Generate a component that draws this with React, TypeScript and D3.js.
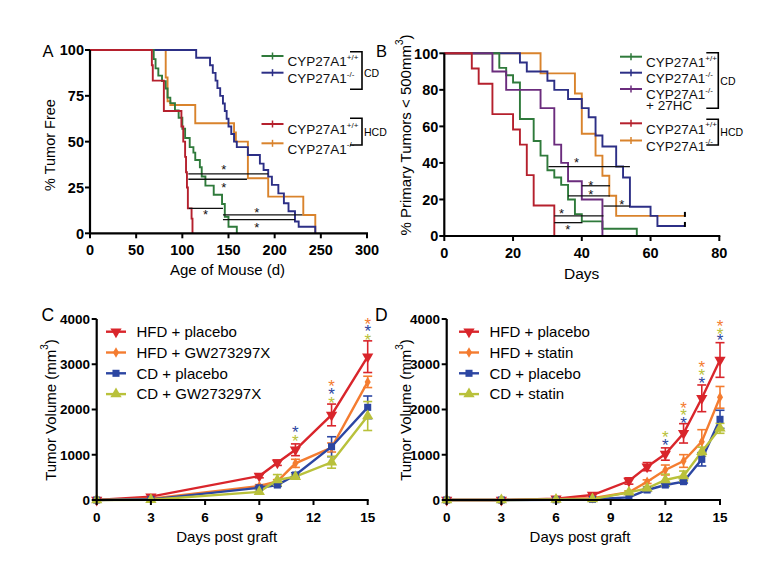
import React from 'react';
import * as d3 from 'd3';

const FONT = "'Liberation Sans', Arial, Helvetica, sans-serif";

// ---------- Panel A (Kaplan-Meier, age of mouse) ----------
const A_xTicks = [0, 50, 100, 150, 200, 250, 300];
const A_yTicks = [0, 25, 50, 75, 100];
const A_cdWT_t = [0, 69, 71, 74, 78, 82, 84, 87, 92, 96, 100, 103, 108, 112, 114, 119, 121, 125, 134, 143, 146, 150, 159];
const A_cdWT_s = [100, 95, 90, 86, 83, 79, 74, 71, 67, 63, 57, 52, 47, 44, 40, 36, 31, 26, 21, 16, 9, 3.6, 0];
const A_cdKO_t = [0, 115, 130, 133, 136, 138, 141, 144, 146, 148, 150, 153, 156, 159, 171, 184, 188, 193, 197, 204, 210, 215, 222, 226, 244];
const A_cdKO_s = [100, 95.8, 91.7, 87.5, 83.3, 79.2, 75, 70.8, 66.7, 62.5, 58.3, 54.2, 50, 47, 42.7, 38, 34.5, 30.9, 26.4, 21.8, 16.4, 12, 6.4, 3.6, 0];
const A_hcdWT_t = [0, 67, 68, 80, 99, 101, 103, 104, 105, 106, 110, 111];
const A_hcdWT_s = [100, 91.7, 83.3, 66.7, 58.3, 50, 41.7, 33.3, 25, 13.6, 8, 0];
const A_hcdKO_t = [0, 82, 84, 87, 114, 156, 158, 171, 193, 231, 244];
const A_hcdKO_s = [100, 85, 72, 70, 60, 55, 50, 30, 20, 10, 0];
const A_bars = [
  { x1: 106.5, x2: 193, y: 32.4 },
  { x1: 106.5, x2: 170, y: 29.5 },
  { x1: 107, x2: 144, y: 13.6 },
  { x1: 144, x2: 230, y: 10 },
  { x1: 144, x2: 222, y: 7.5 },
];
const A_stars = [
  { x: 145, y: 36.4 }, { x: 145, y: 26.9 }, { x: 125, y: 11.8 }, { x: 180.5, y: 13.3 }, { x: 180.5, y: 4.9 },
];

// ---------- Panel B (Kaplan-Meier, days) ----------
const B_xTicks = [0, 20, 40, 60, 80];
const B_yTicks = [0, 20, 40, 60, 80, 100];
const B_cdWT_t = [0, 16, 18, 20, 22, 26, 28, 30, 32, 34, 36, 38, 40, 46, 56];
const B_cdWT_s = [100, 92, 88, 84, 64, 52, 44, 36, 32, 28, 20, 12, 8, 4, 0];
const B_cdKO_t = [0, 22, 24, 30, 32, 36, 40, 42, 44, 46, 50, 52, 54, 60, 62];
const B_cdKO_s = [100, 95, 90, 85, 80, 75, 70, 65, 55, 49, 38, 32, 16, 11, 5.5];
const B_cd27_t = [0, 14, 18, 28, 32, 34, 36, 40, 46];
const B_cd27_s = [100, 90, 80, 70, 50, 40, 30, 20, 0];
const B_hcdWT_t = [0, 8, 10, 14, 20, 22, 24, 26, 32];
const B_hcdWT_s = [100, 91.7, 83.3, 66.7, 58.3, 50, 33.3, 16.7, 0];
const B_hcdKO_t = [0, 28, 38, 40, 44, 46, 48, 50];
const B_hcdKO_s = [100, 89, 78, 56, 44, 33, 22, 11];
const B_end = 70;
const B_bars = [
  { x1: 30.3, x2: 54, y: 38 },
  { x1: 40, x2: 48.2, y: 27.5 },
  { x1: 36, x2: 48.2, y: 22 },
  { x1: 46.3, x2: 54, y: 16.4 },
  { x1: 32, x2: 46.3, y: 11 },
  { x1: 32, x2: 40.2, y: 7.3 },
];
const B_stars = [
  { x: 38.5, y: 42 }, { x: 42.6, y: 29.7 }, { x: 42.6, y: 24.3 }, { x: 51.6, y: 18.8 }, { x: 34.1, y: 13.9 }, { x: 35.9, y: 5.1 },
];

// ---------- Panel C (tumor volume, GW273297X) ----------
const C_days = [0, 3, 9, 10, 11, 13, 15];
const C_hfdPlacebo = [0, 74, 530, 825, 1110, 1880, 3167];
const C_hfdPlaceboErr = [0, 20, 40, 60, 130, 240, 350];
const C_hfdGW = [0, 30, 310, 410, 810, 1160, 2610];
const C_hfdGWErr = [0, 10, 30, 40, 90, 100, 125];
const C_cdPlacebo = [0, 15, 270, 331, 552, 1178, 2048];
const C_cdPlaceboErr = [0, 10, 30, 30, 50, 220, 250];
const C_cdGW = [0, 5, 180, 442, 515, 833, 1856];
const C_cdGWErr = [0, 5, 50, 120, 40, 130, 320];
const C_stars = [
  { day: 11, v: 1598, c: 'blue' }, { day: 11, v: 1399, c: 'yellow' },
  { day: 13, v: 2614, c: 'orange' }, { day: 13, v: 2431, c: 'blue' }, { day: 13, v: 2247, c: 'yellow' },
  { day: 15, v: 3993, c: 'orange' }, { day: 15, v: 3817, c: 'blue' }, { day: 15, v: 3624, c: 'yellow' },
];

// ---------- Panel D (tumor volume, statin) ----------
const D_days = [0, 3, 6, 8, 10, 11, 12, 13, 14, 15];
const D_hfdPlacebo = [0, 0, 30, 110, 420, 737, 1016, 1473, 2247, 3094];
const D_hfdPlaceboErr = [0, 0, 15, 30, 70, 90, 136, 214, 295, 383];
const D_hfdStatin = [0, 0, 15, 40, 170, 405, 663, 862, 1289, 2269];
const D_hfdStatinErr = [0, 0, 5, 10, 30, 40, 110, 140, 265, 240];
const D_cdPlacebo = [0, 0, 5, 15, 59, 221, 331, 405, 899, 1783];
const D_cdPlaceboErr = [0, 0, 5, 5, 20, 30, 30, 30, 147, 200];
const D_cdStatin = [0, 0, 10, 20, 170, 258, 442, 530, 1068, 1584];
const D_cdStatinErr = [0, 0, 5, 5, 30, 40, 130, 110, 100, 110];
const D_stars = [
  { day: 12, v: 1487, c: 'yellow' }, { day: 12, v: 1310, c: 'blue' },
  { day: 13, v: 2137, c: 'orange' }, { day: 13, v: 1973, c: 'yellow' }, { day: 13, v: 1805, c: 'blue' },
  { day: 14, v: 3021, c: 'orange' }, { day: 14, v: 2857, c: 'yellow' }, { day: 14, v: 2689, c: 'blue' },
  { day: 15, v: 3934, c: 'orange' }, { day: 15, v: 3772, c: 'yellow' }, { day: 15, v: 3624, c: 'blue' },
];
const CD_xTicks = [0, 3, 6, 9, 12, 15];
const CD_yTicks = [0, 1000, 2000, 3000, 4000];

const KM_COL = { green: '#2f7a3b', blue: '#2c2f86', red: '#b5202d', orange: '#d9832c', purple: '#6b2c7d' };
const TV_COL: Record<string, string> = { red: '#d9252b', orange: '#f47c30', blue: '#2c46a2', yellow: '#b9c13b' };

function Axes({ xs, ys, xTicks, yTicks, fs, xOff, yOff }: any) {
  const xa = xs.range()[0];
  const yb = ys.range()[0];
  const yt = ys(yTicks[yTicks.length - 1]);
  const xe = xs(xTicks[xTicks.length - 1]);
  return (
    <g fontFamily={FONT} fontWeight="bold" fontSize={fs}>
      <line x1={xa} x2={xa} y1={yb + 1} y2={yt} stroke="#000" strokeWidth={2.2} />
      <line x1={xa - 1} x2={xe + 1} y1={yb} y2={yb} stroke="#000" strokeWidth={2.2} />
      {xTicks.map((t: number) => (
        <g key={'x' + t}>
          <line x1={xs(t)} x2={xs(t)} y1={yb} y2={yb + 5} stroke="#000" strokeWidth={2} />
          <text x={xs(t)} y={yb + xOff} textAnchor="middle">{t}</text>
        </g>
      ))}
      {yTicks.map((t: number) => (
        <g key={'y' + t}>
          <line x1={xa - 5} x2={xa} y1={ys(t)} y2={ys(t)} stroke="#000" strokeWidth={2} />
          <text x={xa - yOff} y={ys(t) + fs * 0.36} textAnchor="end">{t}</text>
        </g>
      ))}
    </g>
  );
}

function Star({ x, y, color, fs }: any) {
  return (
    <text x={x} y={y + fs * 0.6} textAnchor="middle" fontFamily={FONT} fontSize={fs} fill={color}>*</text>
  );
}

function kmPath(xs: any, ys: any, t: number[], s: number[], end?: number) {
  const pts: [number, number][] = t.map((ti, i) => [ti, s[i]]);
  if (end !== undefined) pts.push([end, s[s.length - 1]]);
  return d3.line<[number, number]>().x(d => xs(d[0])).y(d => ys(d[1])).curve(d3.curveStepAfter)(pts) || '';
}

function LegendKM({ x, y, color, sup, second }: any) {
  return (
    <g fontFamily={FONT}>
      <line x1={x} x2={x + 22} y1={y} y2={y} stroke={color} strokeWidth={2} />
      <line x1={x + 11} x2={x + 11} y1={y - 3.5} y2={y + 3.5} stroke={color} strokeWidth={1.5} />
      <text x={x + 26} y={y + 10.3} fontSize={13.5} fill="#111">
        CYP27A1<tspan dy={-6.5} fontSize={8}>{sup}</tspan>
      </text>
      {second && <text x={x + 26} y={y + 20.5} fontSize={13.5} fill="#111">{second}</text>}
    </g>
  );
}

function Bracket({ x, y1, y2, label, ly }: any) {
  return (
    <g>
      <path d={`M${x - 12},${y1}H${x}V${y2}H${x - 12}`} fill="none" stroke="#000" strokeWidth={1.6} />
      <text x={x + 2} y={ly} fontFamily={FONT} fontSize={10.5}>{label}</text>
    </g>
  );
}

function PanelA() {
  const xs = d3.scaleLinear().domain([0, 300]).range([90, 367]);
  const ys = d3.scaleLinear().domain([0, 100]).range([233.3, 50]);
  const series = [
    { t: A_hcdKO_t, s: A_hcdKO_s, c: KM_COL.orange },
    { t: A_cdKO_t, s: A_cdKO_s, c: KM_COL.blue },
    { t: A_cdWT_t, s: A_cdWT_s, c: KM_COL.green },
    { t: A_hcdWT_t, s: A_hcdWT_s, c: KM_COL.red },
  ];
  return (
    <g>
      {series.map((sr, i) => (
        <path key={i} d={kmPath(xs, ys, sr.t, sr.s)} fill="none" stroke={sr.c} strokeWidth={1.9} />
      ))}
      {A_bars.map((b, i) => (
        <line key={i} x1={xs(b.x1)} x2={xs(b.x2)} y1={ys(b.y)} y2={ys(b.y)} stroke="#111" strokeWidth={1.3} />
      ))}
      {A_stars.map((s, i) => <Star key={i} x={xs(s.x)} y={ys(s.y)} color="#111" fs={13} />)}
      <Axes xs={xs} ys={ys} xTicks={A_xTicks} yTicks={A_yTicks} fs={14.5} xOff={22} yOff={6} />
      <text x={42.5} y={56.7} fontFamily={FONT} fontSize={16.5}>A</text>
      <text transform="translate(50,145) rotate(-90)" textAnchor="middle" dominantBaseline="central" fontFamily={FONT} fontSize={14.5}>% Tumor Free</text>
      <text x={227.5} y={275} textAnchor="middle" fontFamily={FONT} fontSize={15}>Age of Mouse (d)</text>
      <LegendKM x={261.5} y={56} color={KM_COL.green} sup="+/+" />
      <LegendKM x={261.5} y={72.7} color={KM_COL.blue} sup="-/-" />
      <Bracket x={362} y1={51.7} y2={89.3} label="CD" ly={77} />
      <LegendKM x={261.5} y={124} color={KM_COL.red} sup="+/+" />
      <LegendKM x={261.5} y={143.3} color={KM_COL.orange} sup="-/-" />
      <Bracket x={362} y1={118.3} y2={145} label="HCD" ly={136} />
    </g>
  );
}

function PanelB() {
  const xs = d3.scaleLinear().domain([0, 80]).range([444.3, 719.3]);
  const ys = d3.scaleLinear().domain([0, 100]).range([236, 53.3]);
  const series = [
    { t: B_hcdKO_t, s: B_hcdKO_s, c: KM_COL.orange, end: B_end },
    { t: B_cdKO_t, s: B_cdKO_s, c: KM_COL.blue, end: B_end },
    { t: B_cdWT_t, s: B_cdWT_s, c: KM_COL.green },
    { t: B_cd27_t, s: B_cd27_s, c: KM_COL.purple },
    { t: B_hcdWT_t, s: B_hcdWT_s, c: KM_COL.red },
  ];
  return (
    <g>
      {series.map((sr, i) => (
        <g key={i}>
          <path d={kmPath(xs, ys, sr.t, sr.s, sr.end)} fill="none" stroke={sr.c} strokeWidth={1.9} />
          {sr.end !== undefined && (
            <line x1={xs(sr.end)} x2={xs(sr.end)} y1={ys(sr.s[sr.s.length - 1]) - 4} y2={ys(sr.s[sr.s.length - 1]) + 1}
              stroke="#000" strokeWidth={2} />
          )}
        </g>
      ))}
      {B_bars.map((b, i) => (
        <line key={i} x1={xs(b.x1)} x2={xs(b.x2)} y1={ys(b.y)} y2={ys(b.y)} stroke="#111" strokeWidth={1.3} />
      ))}
      {B_stars.map((s, i) => <Star key={i} x={xs(s.x)} y={ys(s.y)} color="#111" fs={13} />)}
      <Axes xs={xs} ys={ys} xTicks={B_xTicks} yTicks={B_yTicks} fs={14.5} xOff={21.7} yOff={6} />
      <text x={376} y={57} fontFamily={FONT} fontSize={16.5}>B</text>
      <text transform="translate(405,135) rotate(-90)" textAnchor="middle" dominantBaseline="central" fontFamily={FONT} fontSize={15}>
        % Primary Tumors &lt; 500mm<tspan dy={-6} fontSize={10}>3</tspan><tspan dy={6}>)</tspan>
      </text>
      <text x={581.7} y={278.5} textAnchor="middle" fontFamily={FONT} fontSize={15.5}>Days</text>
      <LegendKM x={620} y={56.7} color={KM_COL.green} sup="+/+" />
      <LegendKM x={620} y={72.7} color={KM_COL.blue} sup="-/-" />
      <LegendKM x={620} y={89} color={KM_COL.purple} sup="-/-" second="+ 27HC" />
      <Bracket x={718.3} y1={52.7} y2={108.3} label="CD" ly={85} />
      <LegendKM x={620} y={123.3} color={KM_COL.red} sup="+/+" />
      <LegendKM x={620} y={140.5} color={KM_COL.orange} sup="-/-" />
      <Bracket x={718.3} y1={119.3} y2={145} label="HCD" ly={136} />
    </g>
  );
}

const symRed = d3.symbol().type(d3.symbolTriangle).size(55);
const symOrange = d3.symbol().type(d3.symbolDiamond).size(32);
const symBlue = d3.symbol().type(d3.symbolSquare).size(50);
const symYellow = d3.symbol().type(d3.symbolTriangle).size(55);

function Marker({ kind, x, y }: any) {
  const c = TV_COL[kind];
  if (kind === 'red') return <path d={symRed() || ''} transform={`translate(${x},${y}) rotate(180)`} fill={c} />;
  if (kind === 'orange') return <path d={symOrange() || ''} transform={`translate(${x},${y})`} fill={c} />;
  if (kind === 'blue') return <path d={symBlue() || ''} transform={`translate(${x},${y})`} fill={c} />;
  return <path d={symYellow() || ''} transform={`translate(${x},${y})`} fill={c} />;
}

function TVPanel({ x0, x1, days, series, stars, labels, letter, letterX, legendX, yTitleX, xTitleX }: any) {
  const xs = d3.scaleLinear().domain([0, 15]).range([x0, x1]);
  const ys = d3.scaleLinear().domain([0, 4000]).range([500, 319]);
  const line = d3.line<number>().x((_, i) => xs(days[i])).y(v => ys(v));
  return (
    <g>
      {series.map((sr: any) => (
        <g key={sr.kind}>
          <path d={line(sr.v) || ''} fill="none" stroke={TV_COL[sr.kind]} strokeWidth={2.4} />
          {sr.v.map((v: number, i: number) => sr.e[i] > 25 ? (
            <g key={i} stroke={TV_COL[sr.kind]} strokeWidth={1.6}>
              <line x1={xs(days[i])} x2={xs(days[i])} y1={ys(v - sr.e[i])} y2={ys(v + sr.e[i])} />
              <line x1={xs(days[i]) - 4.5} x2={xs(days[i]) + 4.5} y1={ys(v + sr.e[i])} y2={ys(v + sr.e[i])} />
              <line x1={xs(days[i]) - 4.5} x2={xs(days[i]) + 4.5} y1={ys(v - sr.e[i])} y2={ys(v - sr.e[i])} />
            </g>
          ) : null)}
        </g>
      ))}
      {series.map((sr: any) => (
        <g key={'m' + sr.kind}>
          {sr.v.map((v: number, i: number) => <Marker key={i} kind={sr.kind} x={xs(days[i])} y={ys(v)} />)}
        </g>
      ))}
      {stars.map((s: any, i: number) => <Star key={i} x={xs(s.day)} y={ys(s.v)} color={TV_COL[s.c]} fs={17} />)}
      <Axes xs={xs} ys={ys} xTicks={CD_xTicks} yTicks={CD_yTicks} fs={13.5} xOff={21.5} yOff={6.7} />
      <text x={letterX} y={320.7} fontFamily={FONT} fontSize={17.5}>{letter}</text>
      <text transform={`translate(${yTitleX},410) rotate(-90)`} textAnchor="middle" dominantBaseline="central" fontFamily={FONT} fontSize={15}>
        Tumor Volume (mm<tspan dy={-6} fontSize={10}>3</tspan><tspan dy={6}>)</tspan>
      </text>
      <text x={xTitleX} y={542} textAnchor="middle" fontFamily={FONT} fontSize={15}>Days post graft</text>
      {series.map((sr: any, i: number) => {
        const ly = 331.7 + i * 20.8;
        return (
          <g key={'l' + i}>
            <line x1={legendX} x2={legendX + 20} y1={ly} y2={ly} stroke={TV_COL[sr.kind]} strokeWidth={2.4} />
            <Marker kind={sr.kind} x={legendX + 10} y={ly} />
            <text x={legendX + 30.5} y={ly + 5.3} fontFamily={FONT} fontSize={15}>{labels[i]}</text>
          </g>
        );
      })}
    </g>
  );
}

export default function App() {
  const cSeries = [
    { kind: 'red', v: C_hfdPlacebo, e: C_hfdPlaceboErr },
    { kind: 'orange', v: C_hfdGW, e: C_hfdGWErr },
    { kind: 'blue', v: C_cdPlacebo, e: C_cdPlaceboErr },
    { kind: 'yellow', v: C_cdGW, e: C_cdGWErr },
  ];
  const dSeries = [
    { kind: 'red', v: D_hfdPlacebo, e: D_hfdPlaceboErr },
    { kind: 'orange', v: D_hfdStatin, e: D_hfdStatinErr },
    { kind: 'blue', v: D_cdPlacebo, e: D_cdPlaceboErr },
    { kind: 'yellow', v: D_cdStatin, e: D_cdStatinErr },
  ];
  return (
    <svg width={775} height={576} style={{ position: 'absolute', left: 0, top: 0, background: '#fff' }}>
      <rect width={775} height={576} fill="#fff" />
      <PanelA />
      <PanelB />
      <TVPanel x0={96.7} x1={367.7} days={C_days} series={cSeries} stars={C_stars}
        labels={['HFD + placebo', 'HFD + GW273297X', 'CD + placebo', 'CD + GW273297X']}
        letter="C" letterX={41.5} legendX={106} yTitleX={50} xTitleX={226.7} />
      <TVPanel x0={446.7} x1={720} days={D_days} series={dSeries} stars={D_stars}
        labels={['HFD + placebo', 'HFD + statin', 'CD + placebo', 'CD + statin']}
        letter="D" letterX={375} legendX={459} yTitleX={405} xTitleX={580} />
    </svg>
  );
}
